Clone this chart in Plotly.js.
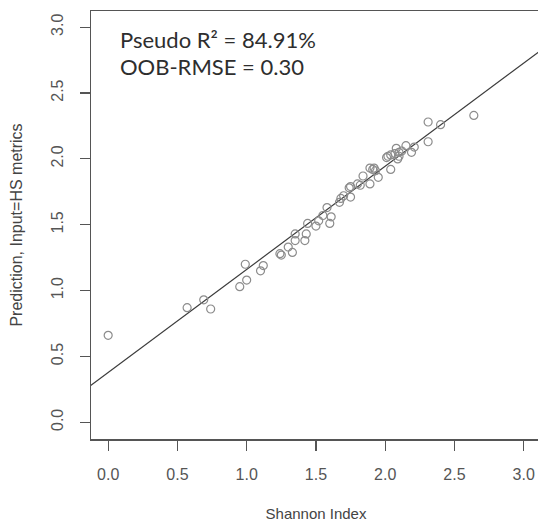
<!DOCTYPE html>
<html>
<head>
<meta charset="utf-8">
<script src="https://cdn.plot.ly/plotly-3.0.1.min.js"></script>
<style>
html,body{margin:0;padding:0;overflow:hidden;background:#fff;}
#chart{width:541px;height:522px;}
</style>
</head>
<body>
<div id="chart"></div>
<script>
// Observed Shannon index values
const shannonIndex = [0.00,0.57,0.69,0.74,0.95,0.99,1.00,1.10,1.12,1.24,1.25,1.30,1.33,1.35,1.35,1.42,1.43,1.44,1.50,1.52,1.55,1.58,1.60,1.61,1.67,1.68,1.70,1.74,1.75,1.75,1.80,1.82,1.84,1.89,1.89,1.91,1.92,1.93,1.95,2.01,2.02,2.04,2.04,2.07,2.08,2.09,2.10,2.10,2.12,2.15,2.19,2.21,2.31,2.31,2.40,2.64];
// Predicted values (Input = HS metrics)
const prediction = [0.66,0.87,0.93,0.86,1.03,1.20,1.08,1.15,1.19,1.28,1.27,1.33,1.29,1.38,1.43,1.38,1.43,1.51,1.49,1.53,1.57,1.63,1.51,1.56,1.67,1.70,1.72,1.78,1.79,1.71,1.81,1.80,1.87,1.81,1.93,1.92,1.93,1.91,1.86,2.01,2.02,2.03,1.92,2.04,2.08,2.00,2.02,2.05,2.06,2.10,2.05,2.09,2.28,2.13,2.26,2.33];
// Fitted line
const fitIntercept = 0.378;
const fitSlope = 0.783;
const fitX = [-0.3, 3.4];
const fitY = fitX.map(v => fitIntercept + fitSlope * v);
const tickValues = [0, 0.5, 1.0, 1.5, 2.0, 2.5, 3.0];
const tickLabels = ["0.0","0.5","1.0","1.5","2.0","2.5","3.0"];
const statLines = ["Pseudo R² = 84.91%", "OOB-RMSE = 0.30"];

const FONT = 'Arial';

const traces = [
  {x: fitX, y: fitY, type: 'scatter', mode: 'lines',
   line: {color: '#3c3c3c', width: 1.2}, hoverinfo: 'skip'},
  {x: shannonIndex, y: prediction, type: 'scatter', mode: 'markers',
   marker: {symbol: 'circle-open', size: 8, color: '#8c8c8c', line: {width: 1.2, color: '#8c8c8c'}}}
];

const axisCommon = {
  showgrid: false, zeroline: false, showline: true, mirror: true,
  linecolor: '#555', linewidth: 1.5,
  ticks: 'outside', ticklen: 10, tickwidth: 1.2, tickcolor: '#555',
  tickvals: tickValues, ticktext: tickLabels,
  tickfont: {family: FONT, size: 16, color: '#555'},
  ticklabelstandoff: 10
};

const statY = [2.905, 2.705];
const layout = {
  width: 541, height: 522,
  margin: {l: 91, r: 0, t: 11, b: 83},
  paper_bgcolor: '#fff', plot_bgcolor: '#fff',
  showlegend: false,
  xaxis: Object.assign({}, axisCommon, {
    range: [-0.124, 3.125],
    automargin: 'height',
    title: {text: 'Shannon Index', font: {family: FONT, size: 15, color: '#444'}, standoff: 30}
  }),
  yaxis: Object.assign({}, axisCommon, {
    range: [-0.127, 3.123],
    tickangle: -90,
    automargin: 'left',
    title: {text: 'Prediction, Input=HS metrics', font: {family: FONT, size: 16, color: '#444'}, standoff: 22}
  }),
  annotations: statLines.map((t, i) => ({
    text: t, xref: 'x', yref: 'y', x: 0.07, y: statY[i],
    xanchor: 'left', yanchor: 'middle', align: 'left', showarrow: false,
    font: {family: 'Lato, sans-serif', size: 22, color: '#2e2e2e'}
  }))
};

Plotly.newPlot('chart', traces, layout, {displayModeBar: false, staticPlot: true});
</script>
</body>
</html>
